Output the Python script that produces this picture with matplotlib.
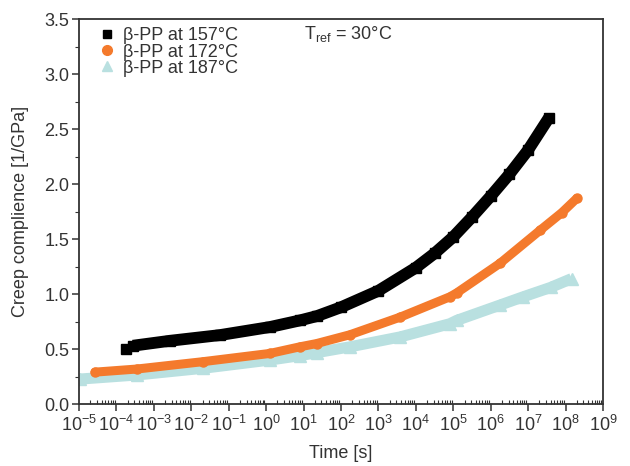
import matplotlib
matplotlib.use('Agg')
import matplotlib.pyplot as plt
from matplotlib.ticker import LogLocator, MultipleLocator, NullFormatter, FormatStrFormatter
import numpy as np

plt.rcParams['font.family'] = ['Liberation Sans', 'DejaVu Sans']
plt.rcParams['mathtext.default'] = 'regular'

# log10(time) and compliance
logt_157 = [-3.74, -3.56, -2.57, -1.23, 0.10, 0.90, 1.36, 2.0, 3.0, 4.0,
            4.5, 5.0, 5.5, 6.0, 6.5, 7.0, 7.55]
J_157 = [0.50, 0.53, 0.575, 0.627, 0.70, 0.76, 0.80, 0.88, 1.03, 1.24,
         1.37, 1.52, 1.70, 1.89, 2.09, 2.31, 2.60]

logt_172 = [-4.57, -3.46, -1.69, 0.10, 0.90, 1.35, 2.24, 3.58, 4.91, 5.09, 6.25,
            7.32, 7.90, 8.30]
J_172 = [0.29, 0.318, 0.385, 0.46, 0.52, 0.55, 0.63, 0.79, 0.975, 1.01, 1.28,
         1.58, 1.74, 1.87]

logt_187 = [-4.97, -3.46, -1.69, 0.10, 0.90, 1.35, 2.24, 3.58, 4.91, 5.09, 6.25,
            6.87, 7.60, 8.16]
J_187 = [0.227, 0.264, 0.325, 0.40, 0.44, 0.467, 0.52, 0.61, 0.73, 0.76, 0.90,
         0.975, 1.06, 1.14]

labels = ['β-PP at 157°C', 'β-PP at 172°C', 'β-PP at 187°C']
colors = ['#000000', '#f47a2c', '#b9e0e0']
txt = '#333333'
fs = 13

fig = plt.figure(figsize=(6.3, 4.66), dpi=100)
ax = fig.add_axes([0.1254, 0.133, 0.8317, 0.826])

t157 = 10.0 ** np.array(logt_157)
t172 = 10.0 ** np.array(logt_172)
t187 = 10.0 ** np.array(logt_187)

# thick band under the markers (the original has many overlapping symbols)
ax.plot(t187, J_187, color=colors[2], lw=8, solid_capstyle='butt', zorder=2)
ax.plot(t172, J_172, color=colors[1], lw=6.5, solid_capstyle='round', zorder=3)
ax.plot(t157[1:], J_157[1:], color=colors[0], lw=8.5, solid_capstyle='butt', zorder=4)

ax.plot(t187, J_187, ls='none', marker='^', ms=8, color=colors[2], zorder=2)
ax.plot(t172, J_172, ls='none', marker='o', ms=6.5, color=colors[1], zorder=3)
ax.plot(t157, J_157, ls='none', marker='s', ms=7, color=colors[0], zorder=4)

# legend entries
h1, = ax.plot([], [], ls='none', marker='s', ms=6, color=colors[0])
h2, = ax.plot([], [], ls='none', marker='o', ms=7, color=colors[1])
h3, = ax.plot([], [], ls='none', marker='^', ms=7, color=colors[2])
leg = ax.legend([h1, h2, h3], labels, loc='upper left', frameon=False,
                fontsize=fs, handlelength=0.8, handletextpad=0.5,
                labelspacing=-0.05, borderaxespad=0.0,
                bbox_to_anchor=(0.025, 0.997))
for t in leg.get_texts():
    t.set_color(txt)

ax.text(0.43, 0.987, 'T$_{ref}$ = 30°C', transform=ax.transAxes,
        fontsize=fs, color=txt, va='top', ha='left')

ax.set_xscale('log')
ax.set_xlim(1e-5, 1e9)
ax.set_ylim(0, 3.5)
ax.xaxis.set_major_locator(LogLocator(base=10, numticks=30))
ax.xaxis.set_minor_locator(LogLocator(base=10, subs=np.arange(2, 10), numticks=30))
ax.xaxis.set_minor_formatter(NullFormatter())
ax.yaxis.set_major_locator(MultipleLocator(0.5))
ax.yaxis.set_minor_locator(MultipleLocator(0.25))
ax.yaxis.set_major_formatter(FormatStrFormatter('%.1f'))

for s in ax.spines.values():
    s.set_color(txt)
    s.set_linewidth(1.3)

ax.tick_params(axis='both', which='major', labelsize=fs, labelcolor=txt,
               color=txt, width=1.1, length=5, direction='out')
ax.tick_params(axis='x', which='minor', direction='in', length=3, width=0.8,
               color=txt)
ax.tick_params(axis='y', which='minor', direction='out', length=3, width=0.8,
               color=txt)
ax.tick_params(axis='x', which='major', pad=3)
ax.tick_params(axis='y', which='major', pad=2)

ax.set_xlabel('Time [s]', fontsize=fs, color=txt, labelpad=7)
ax.set_ylabel('Creep complience [1/GPa]', fontsize=fs, color=txt, labelpad=11)

fig.savefig('out.png', dpi=100)
